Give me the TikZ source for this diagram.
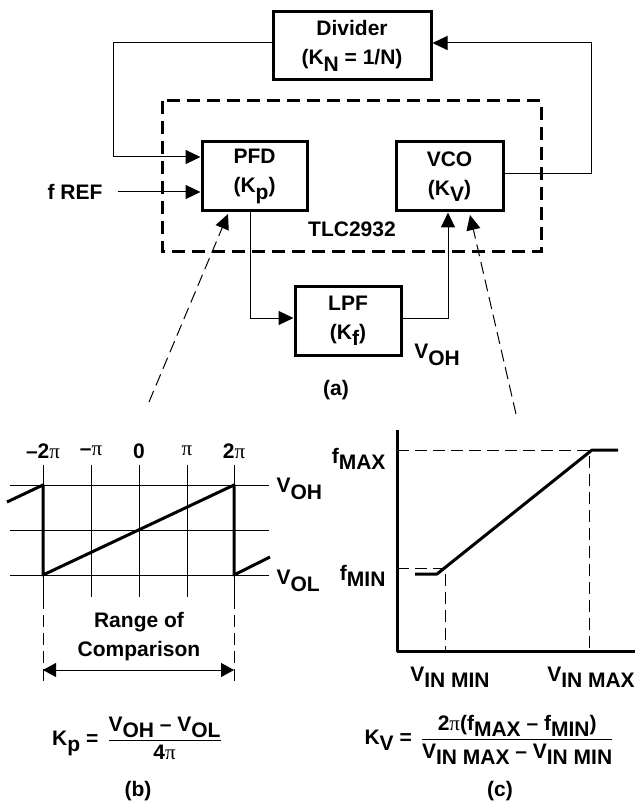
\documentclass[tikz,border=0pt]{standalone}
\usepackage{fontspec}
\setmainfont{Liberation Sans}
\newfontfamily\greekfont{Liberation Serif}
\usetikzlibrary{arrows.meta,positioning,calc}

\newcommand{\lo}[1]{\raisebox{-0.3em}{#1}}
\newcommand{\pii}{{\greekfont\mdseries π}}

\tikzset{
  blk/.style={draw, line width=3pt, minimum width=105pt, minimum height=69pt,
    align=center, inner sep=0pt},
  tlcbox/.style={line width=3pt, dash pattern=on 13pt off 7pt},
  wire/.style={line width=1pt},
  tip/.style={-{Triangle[length=15pt,width=14pt]}},
  guide/.style={line width=1pt, dash pattern=on 12pt off 6pt},
  saw/.style={line width=3pt, line join=round},
}

\begin{document}
\begin{tikzpicture}[x=1pt, y=-1pt,
    every node/.style={font=\fontsize{21}{29}\selectfont\bfseries, align=center}]
  \useasboundingbox (0,0) rectangle (636,802);

  % (a) loop
  \node[blk, minimum width=158pt, minimum height=68pt] (div) at (352,46) {Divider\\(K\lo{N} = 1/N)};
  \node[blk] (pfd) at (254.5,176.5) {PFD\\(K\lo{p})};
  \node[blk, minimum width=107pt] (vco) at (449.5,176.5) {VCO\\(K\lo{V})};
  \node[blk, minimum width=106pt] (lpf) at (348,320.5) {LPF\\(K\lo{f})};
  \draw[tlcbox] (162,101) rectangle (541,251);
  \node (tlc) at (352,229) {TLC2932};
  \node (fref) at (75,192) {f REF};
  \node (voh) at (437,355) {V\lo{OH}};
  \node (capa) at (336,390) {(a)};

  \draw[wire,tip] ([yshift=3pt]div.west) -| ++(-158,0) |- ([yshift=19.5pt]pfd.west);
  \draw[wire,tip] ([xshift=12pt]fref.east) -- (pfd.west |- fref.east);
  \draw[wire,tip] ([yshift=2.5pt]vco.east) -- ++(87,0) |- ([yshift=3pt]div.east);
  \draw[wire,tip] ([xshift=-4.5pt]pfd.south) |- ([yshift=2.5pt]lpf.west);
  \draw[wire,tip] ([yshift=2.5pt]lpf.east) -| ([xshift=-1.5pt]vco.south);

  % pointers to the plots
  \coordinate (pfdtip) at (228,214);
  \coordinate (vcotip) at (470,215);
  \coordinate (pfdfoot) at (149,402);
  \coordinate (vcofoot) at (516,414);
  \draw[guide,tip] (pfdfoot) -- (pfdtip);
  \draw[guide,tip] (vcofoot) -- (vcotip);

  % (b) phase detector
  \foreach \x/\t [count=\i] in {43/{–2\pii},91/{–\pii},139/0,187/\pii,234/2\pii} {
    \draw[wire] (\x,465) -- (\x,597);
    \node (ph\i) at (\x,451) {\t};
  }
  \foreach \y in {485,530,575}
    \draw[wire] (10,\y) -- (269,\y);
  \draw[guide] (43,597) -- (43,681);
  \draw[guide] (234,597) -- (234,681);
  \draw[saw] (7,502) -- (43,485) -- (43,575) -- (234,485) -- (234,575) -- (270,557);
  \node[anchor=west] (vohb) at (273,489) {V\lo{OH}};
  \node[anchor=west] (volb) at (273,581) {V\lo{OL}};
  \node (rng) at (139,637) {Range of\\Comparison};
  \draw[wire,{Triangle[length=13pt,width=14pt]}-{Triangle[length=13pt,width=14pt]}] (43,670) -- (234,670);
  \node (kp) at (137,738) {K\lo{p} =\hspace{9pt}$\displaystyle\frac{\hbox{V\lo{OH} – V\lo{OL}}}{\hbox{4\pii}}$};
  \node (capb) at (138,791) {(b)};

  % (c) vco
  \draw[saw] (397,430) -- (397,651) -- (635,651);
  \draw[guide] (397,450) -- (589,450) -- (589,651);
  \draw[guide] (397,568) -- (445,568) -- (445,651);
  \draw[saw] (415,574) -- (437,574) -- (592,450) -- (618,450);
  \node[anchor=east] (fmax) at (389,459) {f\lo{MAX}};
  \node[anchor=east] (fmin) at (389,576) {f\lo{MIN}};
  \node (vinmin) at (450,677) {V\lo{IN MIN}};
  \node (vinmax) at (591,677) {V\lo{IN MAX}};
  \node (kv) at (489,740) {K\lo{V} =\hspace{9pt}$\displaystyle\frac{\hbox{2\pii(f\lo{MAX} – f\lo{MIN})}}{\hbox{V\lo{IN MAX} – V\lo{IN MIN}}}$};
  \node (capc) at (500,791) {(c)};
\end{tikzpicture}
\end{document}
